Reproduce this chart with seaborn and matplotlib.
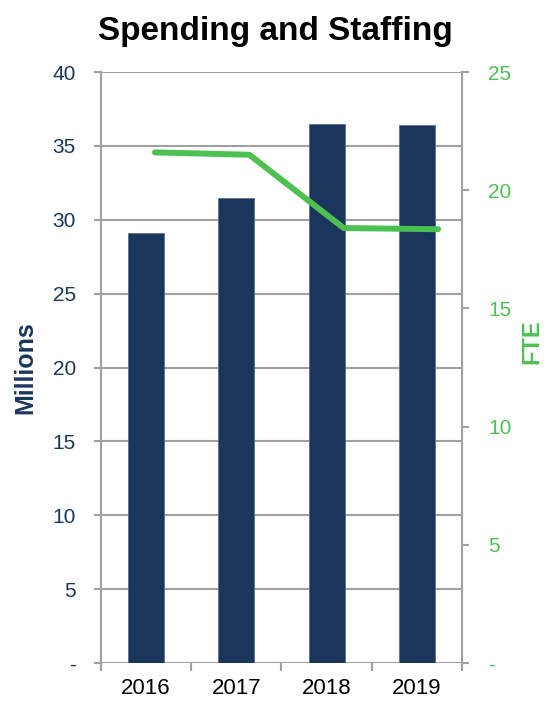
import matplotlib
matplotlib.use("Agg")
import matplotlib.pyplot as plt
import matplotlib.ticker as mticker
import seaborn as sns
import pandas as pd
import numpy as np

years = ["2016", "2017", "2018", "2019"]
spending = [29.1, 31.5, 36.5, 36.4]
fte = [21.6, 21.5, 18.4, 18.35]

NAVY = "#1B365D"
GREEN = "#4CC152"
GRAY = "#A0A0A0"

sns.set_style("white")
plt.rcParams["font.family"] = ["Liberation Sans Narrow", "Liberation Sans", "DejaVu Sans"]

df = pd.DataFrame({"year": years, "spending": spending, "fte": fte})

fig = plt.figure(figsize=(5.5, 7.06), dpi=100)
ax = fig.add_axes([0.1836, 0.0609, 0.6564, 0.8371])

sns.barplot(data=df, x="year", y="spending", color=NAVY, width=0.4,
            saturation=1, ax=ax, zorder=3, edgecolor="#5A6E8C", linewidth=0.6)
ax.set_ylim(0, 40)
ax.set_xlim(-0.5, 3.5)
ax.set_yticks(np.arange(0, 41, 5))
ax.yaxis.set_major_formatter(mticker.FuncFormatter(lambda v, p: "-" if v == 0 else f"{v:.0f}"))
ax.grid(axis="y", color=GRAY, linewidth=1.5, zorder=0)
ax.set_axisbelow(True)
ax.tick_params(axis="y", which="major", length=5, width=1.5, color=GRAY,
               labelcolor=NAVY, labelsize=15, pad=13, left=True)
# x: ticks at category boundaries
ax.set_xticks(np.arange(-0.5, 4, 1), minor=True)
ax.tick_params(axis="x", which="major", length=0, labelsize=16, pad=11, labelcolor="black")
ax.tick_params(axis="x", which="minor", length=6, width=1.5, color=GRAY, bottom=True)
ax.set_xlabel("")
ax.set_ylabel("Millions", fontsize=18, fontweight="bold", color=NAVY)
ax.yaxis.set_label_coords(-0.177, 0.5)
for s in ["top", "bottom"]:
    ax.spines[s].set_visible(False)
ax.spines["left"].set_color(GRAY)
ax.spines["left"].set_linewidth(1.5)
ax.spines["right"].set_visible(False)

ax2 = ax.twinx()
ax2.set_ylim(0, 25)
ax2.set_yticks(np.arange(0, 26, 5))
ax2.yaxis.set_major_formatter(mticker.FuncFormatter(lambda v, p: "-" if v == 0 else f"{v:.0f}"))
ax2.tick_params(axis="y", length=5, width=1.5, color=GRAY, labelcolor=GREEN,
                labelsize=15, pad=14, right=True)
for s in ["top", "bottom", "left"]:
    ax2.spines[s].set_visible(False)
ax2.spines["right"].set_color(GRAY)
ax2.spines["right"].set_linewidth(1.5)
ax2.set_ylabel("FTE", fontsize=17, fontweight="bold", color=GREEN)
ax2.yaxis.set_label_coords(1.163, 0.543)

ax3 = ax2.twiny()
ax3.set_xlim(-0.5725, 3.254)
sns.lineplot(x=np.arange(len(years)), y=fte, ax=ax3, color=GREEN, linewidth=4.3)
ax3.set_ylim(0, 25)
ax3.axis("off")
ax3.set_ylabel("")

fig.text(0.5, 0.955, "Spending and Staffing", ha="center", va="center",
         fontsize=24, fontweight="bold", color="black")

fig.savefig("out.png", dpi=100)
